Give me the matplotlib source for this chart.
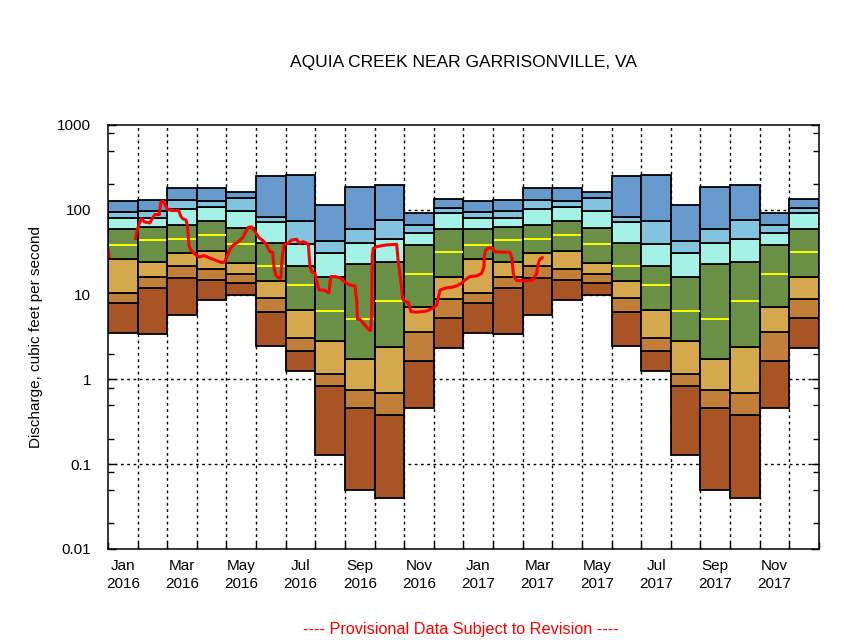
import numpy as np
import matplotlib
matplotlib.use("Agg")
import matplotlib.pyplot as plt
from matplotlib.ticker import FixedLocator, NullFormatter

plt.rcParams['font.family'] = ['Liberation Sans', 'DejaVu Sans']

# monthly percentile statistics (cfs), Jan..Dec
p_max = [127, 131, 179, 179, 162, 248, 255, 113, 184, 195, 92.5, 133]
p95   = [93, 97, 129, 127, 137, 83, 73, 42.5, 59, 75, 66.8, 106]
p90   = [79, 79, 103, 107, 97, 71, 39, 30.7, 41, 45, 53.7, 91]
p75   = [59, 62, 66, 73, 60.5, 41, 21.5, 16, 22.8, 24.4, 38, 59]
p50   = [38, 44, 45, 51, 39, 22, 12.9, 6.35, 5.1, 8.3, 17.3, 31.5]
p25   = [26, 24, 30.7, 32.7, 23.4, 14.3, 6.5, 2.8, 1.73, 2.43, 7.1, 16]
p10   = [10.4, 16, 22, 19.9, 17.3, 9.0, 3.05, 1.15, 0.74, 0.70, 3.6, 8.8]
p05   = [7.9, 11.9, 15.6, 14.7, 13.6, 6.2, 2.14, 0.83, 0.456, 0.377, 1.63, 5.25]
p_min = [3.5, 3.4, 5.7, 8.6, 9.8, 2.45, 1.24, 0.127, 0.049, 0.040, 0.456, 2.37]

n_years = 2
month_labels = ["Jan\n2016", "Mar\n2016", "May\n2016", "Jul\n2016", "Sep\n2016", "Nov\n2016",
                "Jan\n2017", "Mar\n2017", "May\n2017", "Jul\n2017", "Sep\n2017", "Nov\n2017"]

# daily discharge, x in months since 1 Jan 2016
flow_start_t = [0.0, 0.04]
flow_start_q = [34, 28]

flow_t = [0.935, 0.989, 1.057, 1.138, 1.225, 1.418, 1.495, 1.586, 1.732, 1.765, 1.789, 1.867,
          1.924, 2.015, 2.150, 2.386, 2.454, 2.522, 2.633, 2.677, 2.711, 2.744, 2.825, 2.994,
          3.105, 3.217, 3.332, 3.443, 3.612, 3.838, 3.949, 4.007, 4.118, 4.230, 4.398, 4.547,
          4.648, 4.736, 4.851, 4.962, 5.097, 5.242, 5.357, 5.468, 5.559, 5.603, 5.661, 5.748,
          5.830, 5.884, 5.941, 6.086, 6.201, 6.370, 6.458, 6.593, 6.762, 6.819, 6.876, 6.987,
          7.045, 7.132, 7.291, 7.460, 7.494, 7.527, 7.662, 7.831, 8.000, 8.169, 8.338, 8.395,
          8.422, 8.506, 8.618, 8.820, 8.868, 8.901, 8.911, 8.922, 8.955, 9.070, 9.239, 9.408,
          9.745, 9.799, 9.880, 9.948, 9.992, 10.137, 10.228, 10.420, 10.758, 10.960, 11.095,
          11.207, 11.376, 11.602, 11.771, 11.940, 12.051, 12.219, 12.446, 12.614, 12.692,
          12.702, 12.749, 12.871, 12.986, 13.040, 13.570, 13.637, 13.681, 13.738, 13.796,
          14.245, 14.357, 14.471, 14.525, 14.582, 14.660]
flow_q = [46, 58, 69, 79, 72, 70, 79, 88, 88, 109, 124, 126,
          114, 101, 98, 98, 84.5, 78.5, 75.8, 66, 48, 36.7, 32.7, 28.8,
          27.8, 28.8, 28, 26.8, 25.6, 23.8, 24.4, 28, 34.2, 38.5, 42, 46.9,
          55, 62, 63, 55, 46.9, 43, 38.5, 32, 31.5, 21.3, 17, 15.8,
          15.6, 28, 38.5, 40.3, 44, 44.9, 40.3, 42, 39.5, 21.3, 18.6, 17.8,
          14.2, 11.3, 11.3, 10.5, 13.6, 16.3, 16.3, 15.8, 14, 13, 12.7, 8.6,
          5.1, 5.1, 4.6, 3.8, 3.8, 6.0, 14.9, 28, 35.2, 36.7, 37.7, 38.5,
          39.2, 24.4, 14.9, 9.0, 8.4, 8.1, 6.3, 6.2, 6.4, 6.9, 7.5,
          11.3, 11.9, 12.2, 12.7, 13.6, 14.9, 16.3, 16.6, 17.8, 21.3,
          28, 33.6, 35.7, 35.2, 32, 31.5, 26.8, 17.8, 15.7, 14.6,
          14.6, 15.1, 17.8, 23.4, 26.3, 27.2]

band_colors = ['#A85425', '#C27F3A', '#D5A84D', '#6A9046', '#A3F2E5', '#82C4DF', '#6699CC']

fig = plt.figure(figsize=(8.45, 6.4), dpi=100)
ax = fig.add_axes([0.1278, 0.1422, 0.8414, 0.6625])

levels = [np.tile(a, n_years) for a in (p_min, p05, p10, p25, p75, p90, p95, p_max)]
med = np.tile(p50, n_years)
xm = np.arange(12 * n_years)

# dotted grid behind the boxes
for xv in range(1, 12 * n_years):
    ax.axvline(xv, color='black', lw=1.0, ls=(0, (2, 2.5)), zorder=1)
for yv in [0.1, 1, 10, 100]:
    ax.axhline(yv, color='black', lw=1.0, ls=(0, (2, 2.5)), zorder=1)

for i in range(7):
    lo = levels[i]
    hi = levels[i + 1]
    ax.bar(xm, hi - lo, bottom=lo, width=1.0, align='edge', color=band_colors[i],
           edgecolor='black', linewidth=1.3, zorder=2)

ax.hlines(med, xm + 0.03, xm + 0.97, colors='#FFFF00', lw=1.4, zorder=3)

ax.plot(flow_start_t, flow_start_q, color='red', lw=2.2, zorder=4)
ax.plot(flow_t, flow_q, color='red', lw=2.2, zorder=4)

ax.set_yscale('log')
ax.set_ylim(0.01, 1000)
ax.set_xlim(0, 12 * n_years)

ax.yaxis.set_major_locator(FixedLocator([0.01, 0.1, 1, 10, 100, 1000]))
ax.set_yticklabels(['0.01', '0.1', '1', '10', '100', '1000'])
minor_y = [m * 10.0 ** e for e in range(-2, 3) for m in (2, 5, 8)]
ax.yaxis.set_minor_locator(FixedLocator(minor_y))
ax.yaxis.set_minor_formatter(NullFormatter())
ax.tick_params(axis='y', which='major', direction='in', length=6, width=1,
               labelsize=11, pad=12, right=True)
ax.tick_params(axis='y', which='minor', direction='in', length=4, width=1, right=True)

ax.set_xticks(np.arange(0, 12 * n_years + 1))
ax.set_xticklabels([])
ax.set_xticks(np.arange(0.5, 12 * n_years, 2), minor=True)
ax.set_xticklabels(month_labels, minor=True, linespacing=1.35)
ax.tick_params(axis='x', which='major', direction='in', length=5, width=1)
ax.tick_params(axis='x', which='minor', length=0, labelsize=11, pad=7)

for s in ax.spines.values():
    s.set_linewidth(1.1)
    s.set_zorder(5)

ax.set_ylabel("Discharge, cubic feet per second", fontsize=11, labelpad=10)
ax.set_title("AQUIA CREEK NEAR GARRISONVILLE, VA", fontsize=12.5, pad=42)
fig.text(0.545, 0.017, "---- Provisional Data Subject to Revision ----", ha='center', va='center',
         fontsize=11.7, color='red')

fig.savefig("out.png", dpi=100)
